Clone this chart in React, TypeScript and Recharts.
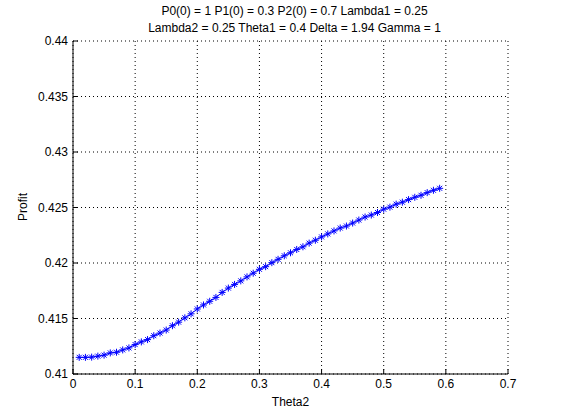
import { LineChart, Line, XAxis, YAxis, CartesianGrid } from "recharts";

const theta2 = [
  0.01, 0.02, 0.03, 0.04, 0.05, 0.06, 0.07, 0.08, 0.09, 0.1,
  0.11, 0.12, 0.13, 0.14, 0.15, 0.16, 0.17, 0.18, 0.19, 0.2,
  0.21, 0.22, 0.23, 0.24, 0.25, 0.26, 0.27, 0.28, 0.29, 0.3,
  0.31, 0.32, 0.33, 0.34, 0.35, 0.36, 0.37, 0.38, 0.39, 0.4,
  0.41, 0.42, 0.43, 0.44, 0.45, 0.46, 0.47, 0.48, 0.49, 0.5,
  0.51, 0.52, 0.53, 0.54, 0.55, 0.56, 0.57, 0.58, 0.59,
];
const profit = [
  0.4115, 0.4115, 0.41152, 0.41161, 0.4117, 0.4119, 0.41196, 0.41217, 0.41235, 0.41265,
  0.41289, 0.4131, 0.41345, 0.41369, 0.41396, 0.41435, 0.41467, 0.41506, 0.41542, 0.41586,
  0.41622, 0.41655, 0.4169, 0.41735, 0.41774, 0.41807, 0.41839, 0.41875, 0.41908, 0.41943,
  0.41967, 0.42003, 0.42033, 0.42065, 0.42092, 0.42122, 0.42146, 0.42179, 0.42205, 0.42235,
  0.42262, 0.42289, 0.42315, 0.42333, 0.4236, 0.42387, 0.42414, 0.42432, 0.42455, 0.42485,
  0.42503, 0.4253, 0.42548, 0.42571, 0.42592, 0.4261, 0.42634, 0.42655, 0.42673,
];
const xTicks = [0, 0.1, 0.2, 0.3, 0.4, 0.5, 0.6, 0.7];
const yTicks = [0.41, 0.415, 0.42, 0.425, 0.43, 0.435, 0.44];
const titleLines = [
  "P0(0) = 1 P1(0) = 0.3 P2(0) = 0.7 Lambda1 = 0.25",
  "Lambda2 = 0.25 Theta1 = 0.4 Delta = 1.94 Gamma = 1",
];

const data = theta2.map((t, i) => ({ t, p: profit[i] }));
const font = "Arial, 'Liberation Sans', sans-serif";

function Star(props: any) {
  const { cx, cy } = props;
  if (cx == null || cy == null) return null;
  const r = 3.5;
  const d = 2.5;
  return (
    <g stroke="#0000ff" strokeWidth={1}>
      <line x1={cx - r} y1={cy} x2={cx + r} y2={cy} />
      <line x1={cx} y1={cy - r} x2={cx} y2={cy + r} />
      <line x1={cx - d} y1={cy - d} x2={cx + d} y2={cy + d} />
      <line x1={cx - d} y1={cy + d} x2={cx + d} y2={cy - d} />
    </g>
  );
}

export default function App() {
  const tickStyle = { fill: "#000", fontSize: 12, fontFamily: font };
  return (
    <div style={{ position: "absolute", left: 0, top: 0, width: 561, height: 420, background: "#fff", fontFamily: font }}>
      <div style={{ position: "absolute", top: 3, width: 561, left: 14, textAlign: "center", fontSize: 12, lineHeight: "17px" }}>
        {titleLines.map((l) => (
          <div key={l}>{l}</div>
        ))}
      </div>
      <div style={{ position: "absolute", top: 395, left: 0, width: 581, textAlign: "center", fontSize: 12 }}>Theta2</div>
      <div style={{ position: "absolute", left: 9, top: 200, fontSize: 12, transform: "rotate(-90deg)", transformOrigin: "center" }}>Profit</div>
      <LineChart width={561} height={420} data={data} margin={{ top: 41, right: 53, bottom: 26, left: 23 }}>
        <CartesianGrid stroke="#000" strokeDasharray="1 3" verticalPoints={undefined} />
        <XAxis
          dataKey="t"
          type="number"
          domain={[0, 0.7]}
          ticks={xTicks}
          height={20}
          tick={tickStyle}
          stroke="#000"
          tickSize={-5}
          tickMargin={10}
          allowDataOverflow
        />
        <XAxis xAxisId="top" orientation="top" type="number" domain={[0, 0.7]} ticks={xTicks} height={0} tick={false} stroke="#000" tickSize={-5} />
        <YAxis
          type="number"
          domain={[0.41, 0.44]}
          ticks={yTicks}
          width={50}
          tick={tickStyle}
          stroke="#000"
          tickSize={-5}
          tickMargin={10}
          allowDataOverflow
        />
        <YAxis yAxisId="right" orientation="right" type="number" domain={[0.41, 0.44]} ticks={yTicks} width={0} tick={false} stroke="#000" tickSize={-5} />
        <Line dataKey="p" stroke="#0000ff" strokeWidth={1} dot={<Star />} isAnimationActive={false} />
      </LineChart>
    </div>
  );
}
